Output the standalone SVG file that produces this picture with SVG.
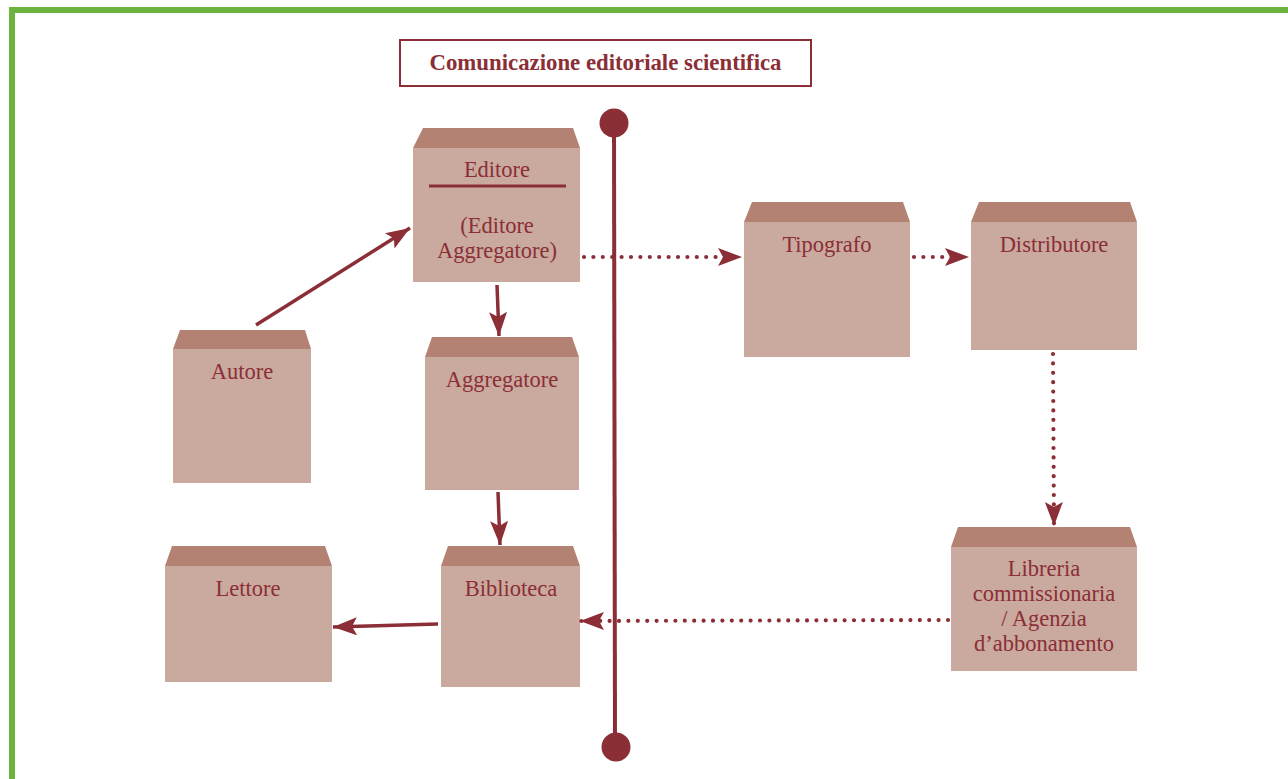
<svg xmlns="http://www.w3.org/2000/svg" width="1288" height="779" viewBox="0 0 1288 779">
<style>
.top{fill:#b38273}
.body{fill:#caa99e}
.lbl{font-family:"Liberation Serif","Times New Roman",serif;font-size:22.5px;fill:#8b2e36;text-anchor:middle}
.title{font-family:"Liberation Serif","Times New Roman",serif;font-size:22.8px;font-weight:bold;fill:#8b2e36;text-anchor:middle}
.solid{stroke:#8b2e36;stroke-width:3.5;fill:none;marker-end:url(#ah)}
.dot{stroke:#8b2e36;stroke-width:4.2;fill:none;stroke-linecap:round;stroke-dasharray:0 9.4;marker-end:url(#ah)}
</style>
<defs>
<marker id="ah" markerUnits="userSpaceOnUse" markerWidth="28" markerHeight="20" refX="24" refY="9" orient="auto">
<path d="M0,0 L24,9 L0,18 L5,9 Z" fill="#8b2e36"/>
</marker>
</defs>
<rect x="0" y="0" width="1288" height="779" fill="#ffffff"/>
<rect x="12" y="10" width="1300" height="800" fill="none" stroke="#6cb33f" stroke-width="6"/>
<g id="title">
<rect x="400" y="40" width="411" height="46" fill="#fff" stroke="#8b2e36" stroke-width="2"/>
<text class="title" x="605.5" y="70">Comunicazione editoriale scientifica</text>
</g>
<g id="axis">
<line x1="614" y1="123" x2="615" y2="746" stroke="#8b2e36" stroke-width="4"/>
<circle cx="614" cy="123" r="14.5" fill="#8b2e36"/>
<circle cx="616" cy="747" r="14.5" fill="#8b2e36"/>
</g>
<g id="editore">
<polygon class="top" points="423,128 573,128 580,148 413,148"/>
<rect class="body" x="413" y="148" width="167" height="134"/>
<text class="lbl" x="497" y="177">Editore</text>
<line x1="429" y1="186" x2="566" y2="186" stroke="#8b2e36" stroke-width="3"/>
<text class="lbl" x="497" y="233">(Editore</text>
<text class="lbl" x="497" y="258">Aggregatore)</text>
</g>
<g id="autore">
<polygon class="top" points="180,330 305,330 311,349 173,349"/>
<rect class="body" x="173" y="349" width="138" height="134"/>
<text class="lbl" x="242" y="379">Autore</text>
</g>
<g id="aggregatore">
<polygon class="top" points="432,337 572,337 579,357 425,357"/>
<rect class="body" x="425" y="357" width="154" height="133"/>
<text class="lbl" x="502" y="387">Aggregatore</text>
</g>
<g id="tipografo">
<polygon class="top" points="752,202 903,202 910,222 744,222"/>
<rect class="body" x="744" y="222" width="166" height="135"/>
<text class="lbl" x="827" y="252">Tipografo</text>
</g>
<g id="distributore">
<polygon class="top" points="979,202 1130,202 1137,222 971,222"/>
<rect class="body" x="971" y="222" width="166" height="128"/>
<text class="lbl" x="1054" y="252">Distributore</text>
</g>
<g id="libreria">
<polygon class="top" points="958,527 1130,527 1137,547 951,547"/>
<rect class="body" x="951" y="547" width="186" height="124"/>
<text class="lbl" x="1044" y="576">Libreria</text>
<text class="lbl" x="1044" y="601">commissionaria</text>
<text class="lbl" x="1044" y="626">/ Agenzia</text>
<text class="lbl" x="1044" y="651">d’abbonamento</text>
</g>
<g id="lettore">
<polygon class="top" points="172,546 325,546 332,566 165,566"/>
<rect class="body" x="165" y="566" width="167" height="116"/>
<text class="lbl" x="248" y="596">Lettore</text>
</g>
<g id="biblioteca">
<polygon class="top" points="448,546 573,546 580,566 441,566"/>
<rect class="body" x="441" y="566" width="139" height="121"/>
<text class="lbl" x="511" y="596">Biblioteca</text>
</g>
<g id="connectors">
<line class="solid" x1="256" y1="325" x2="410" y2="228"/>
<line class="solid" x1="497" y1="285" x2="499" y2="336"/>
<line class="solid" x1="498" y1="492" x2="500" y2="545"/>
<line class="solid" x1="438" y1="624" x2="333" y2="627"/>
<line class="dot" x1="584" y1="257" x2="742" y2="257"/>
<line class="dot" x1="914" y1="257" x2="969" y2="257"/>
<line class="dot" x1="1053" y1="354" x2="1054" y2="526"/>
<line class="dot" x1="948" y1="620" x2="580" y2="621"/>
</g>
</svg>
